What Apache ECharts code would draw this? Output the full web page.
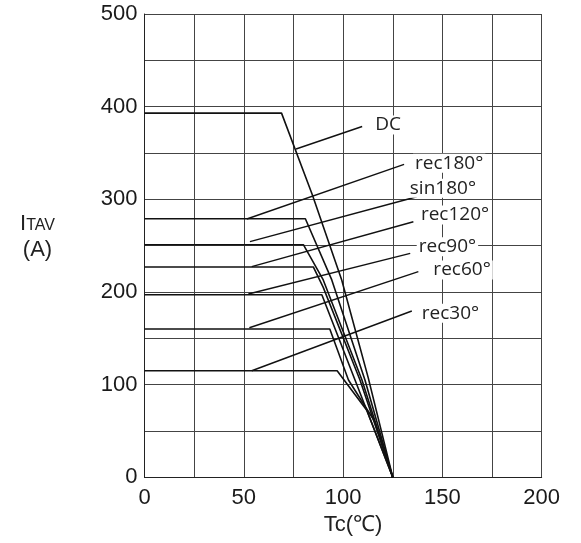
<!DOCTYPE html>
<html>
<head>
<meta charset="utf-8">
<script src="https://cdn.jsdelivr.net/npm/echarts@6/dist/echarts.min.js"></script>
<style>
  html, body { margin: 0; background: #fff; }
  #chart { width: 581px; height: 543px; }
</style>
</head>
<body>
<div id="chart"></div>
<script>
// 壳温 Tc 与平均电流 ITAV 的降额曲线
const xTicks = [0, 50, 100, 150, 200];
const yTicks = [0, 100, 200, 300, 400, 500];

const dcTc = [0, 69, 84.5, 99.3, 112.7, 125];
const dcI = [393, 393, 305, 213, 107, 0];
const rec180Tc = [0, 81, 94.3, 111, 125];
const rec180I = [279, 279, 213, 105, 0];
const sin180Tc = [0, 80, 90, 109.5, 125];
const sin180I = [251, 251, 213, 105, 0];
const rec120Tc = [0, 85, 90, 108.5, 125];
const rec120I = [227, 227, 205, 105, 0];
const rec90Tc = [0, 89.3, 106, 125];
const rec90I = [197, 197, 105, 0];
const rec60Tc = [0, 93.3, 102.7, 116, 125];
const rec60I = [160, 160, 105, 60, 0];
const rec30Tc = [0, 97, 112, 125];
const rec30I = [115, 115, 72, 0];

// 引出线: 名称, 起点, 终点
const curveNames = ['DC', 'rec180°', 'sin180°', 'rec120°', 'rec90°', 'rec60°', 'rec30°'];
const leaderFrom = [[76.3, 354.3], [51.5, 278.8], [53.1, 254.3], [54, 227.3], [52.3, 197.8], [52.8, 161.4], [54, 115]];
const leaderTo = [[109.6, 378.6], [130.7, 337.8], [137.1, 302.8], [135.4, 275.8], [133.8, 241.7], [137.9, 221.9], [134.6, 179.5]];

const curves = [
  [dcTc, dcI], [rec180Tc, rec180I], [sin180Tc, sin180I], [rec120Tc, rec120I],
  [rec90Tc, rec90I], [rec60Tc, rec60I], [rec30Tc, rec30I]
];
// 标签相对引出线终点的偏移
const labelOffsets = [[11, -1.5], [9, -1], [-9, -8.5], [5.5, -6.7], [6.5, -6.6], [13, -1.7], [8, 2.3]];

const zip = (xs, ys) => xs.map((x, i) => [x, ys[i]]);

const curveSeries = curves.map(([xs, ys], i) => ({
  name: curveNames[i],
  type: 'line',
  data: zip(xs, ys),
  symbol: 'none',
  silent: true,
  lineStyle: {color: '#111', width: 1.6},
  z: 3
}));

const leaderSeries = curveNames.map((name, i) => ({
  type: 'line',
  symbol: 'none',
  silent: true,
  lineStyle: {color: '#111', width: 1.4},
  z: 4,
  data: [leaderFrom[i], leaderTo[i]],
  endLabel: {
    show: true,
    formatter: name,
    distance: 0,
    offset: labelOffsets[i],
    backgroundColor: '#fff',
    padding: [0, 2],
    color: '#222',
    fontFamily: 'Open Sans',
    fontSize: 19
  }
}));

const chart = echarts.init(document.getElementById('chart'));

const tickFont = {fontFamily: 'Liberation Sans', fontSize: 22, color: '#1a1a1a'};

chart.setOption({
  animation: false,
  grid: {left: 144.5, right: 39.3, top: 14, bottom: 65.7, outerBoundsMode: 'none'},
  xAxis: {
    type: 'value',
    min: 0,
    max: 200,
    interval: 25,
    name: 'Tc(℃)',
    nameLocation: 'middle',
    nameGap: 34,
    nameTextStyle: {fontFamily: 'Liberation Sans', fontSize: 22, color: '#222', padding: [0, 0, 0, 20]},
    axisLine: {show: true, lineStyle: {color: '#222', width: 1}},
    axisTick: {show: false},
    splitLine: {show: true, lineStyle: {color: '#444', width: 1}},
    axisLabel: {
      ...tickFont,
      margin: 10,
      formatter: v => (xTicks.includes(v) ? String(v) : '')
    }
  },
  yAxis: {
    type: 'value',
    min: 0,
    max: 500,
    interval: 50,
    name: '{i|I}{s|TAV}\n(A)',
    nameLocation: 'middle',
    nameRotate: 0,
    nameGap: 107,
    nameTextStyle: {
      align: 'center',
      verticalAlign: 'middle',
      fontFamily: 'Liberation Sans',
      fontSize: 22,
      color: '#222',
      lineHeight: 26,
      padding: [0, 0, 17, 0],
      rich: {
        i: {fontFamily: 'Liberation Sans', fontSize: 22, color: '#222', lineHeight: 26},
        s: {fontFamily: 'Liberation Sans', fontSize: 16, color: '#222', lineHeight: 26, padding: [3, 0, 0, 0]}
      }
    },
    axisLine: {show: true, lineStyle: {color: '#222', width: 1}},
    axisTick: {show: false},
    splitLine: {show: true, lineStyle: {color: '#444', width: 1}},
    axisLabel: {
      ...tickFont,
      margin: 7,
      formatter: v => (yTicks.includes(v) ? String(v) : '')
    }
  },
  series: [...curveSeries, ...leaderSeries]
});
</script>
</body>
</html>
